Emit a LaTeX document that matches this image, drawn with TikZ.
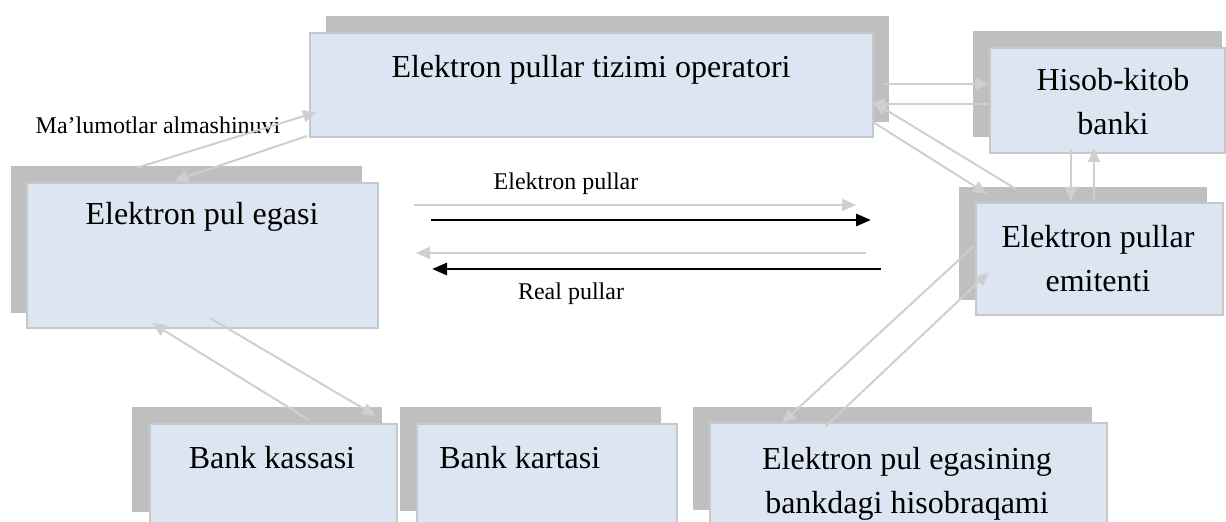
\documentclass[tikz,border=0pt]{standalone}
\usepackage{fontspec}
\setmainfont{Liberation Serif}
\usetikzlibrary{arrows.meta,calc,fit}
\definecolor{boxfill}{HTML}{DCE6F2}
\definecolor{boxline}{HTML}{C8C8C8}
\definecolor{shadowc}{HTML}{BFBFBF}
\definecolor{arrowc}{HTML}{CFCFCF}
\begin{document}
\begin{tikzpicture}[x=0.5pt,y=-0.5pt,
  frontbox/.style={draw=boxline,line width=1pt,fill=boxfill,inner sep=0pt},
  shadowbox/.style={fill=shadowc},
  bigtext/.style={font=\fontsize{16}{22}\selectfont,align=center,inner sep=0pt},
  smalltext/.style={font=\fontsize{12}{14}\selectfont,inner sep=0pt},
  garrow/.style={draw=arrowc,line width=1pt,-{Triangle[length=7pt,width=6pt]}},
  barrow/.style={draw=black,line width=1.4pt,-{Triangle[length=7.5pt,width=6pt]}}]
\useasboundingbox (0,0) rectangle (1226,522);
\clip (0,0) rectangle (1226,522);
% shadows
\fill[shadowbox] (326,16) rectangle (889,122);
\fill[shadowbox] (973,31) rectangle (1222,137);
\fill[shadowbox] (11,166) rectangle (362,313);
\fill[shadowbox] (959,187) rectangle (1207,300);
\fill[shadowbox] (132,407) rectangle (382,512);
\fill[shadowbox] (400,407) rectangle (661,511);
\fill[shadowbox] (693,407) rectangle (1092,510);
% front boxes
\node[frontbox,fit={(310,33)(873,137)}] (op) {};
\node[frontbox,fit={(990,48)(1225,153)}] (hk) {};
\node[frontbox,fit={(27,183)(378,328)}] (eg) {};
\node[frontbox,fit={(976,203)(1223,315)}] (em) {};
\node[frontbox,fit={(150,424)(397,532)}] (kas) {};
\node[frontbox,fit={(417,424)(677,532)}] (kar) {};
\node[frontbox,fit={(710,423)(1107,532)}] (hisr) {};
% texts
\node[bigtext] (opt) at (591,70) {Elektron pullar tizimi operatori};
\node[bigtext] (hkt) at (1113,102) {Hisob-kitob\\banki};
\node[bigtext] (egt) at (202,217) {Elektron pul egasi};
\node[bigtext] (emt) at (1098,259) {Elektron pullar\\emitenti};
\node[bigtext] (kast) at (272,458) {Bank kassasi};
\node[bigtext,anchor=west] (kart) at (439,458) {Bank kartasi};
\node[bigtext] (hisrt) at (907,484) {Elektron pul egasining\\bankdagi hisobraqami};
\node[smalltext] (mal) at (158,125) {Ma’lumotlar almashinuvi};
\node[smalltext] (ep) at (566,184) {Elektron pullar};
\node[smalltext] (rp) at (571,294) {Real pullar};
% connectors
\draw[garrow] ($(eg.north west)+(110,-14)$) -- ($(op.north west)+(8,80)$);
\draw[garrow] ($(op.south west)+(-2,-2)$) -- ($(eg.north west)+(148,-1)$);
\draw[garrow] ($(op.north east)+(9,52)$) -- ($(hk.north west)+(0,37)$);
\draw[garrow] ($(hk.north west)+(0,57)$) -- ($(op.north east)+(-3,72)$);
\draw[garrow] ($(op.north east)+(-1,90)$) -- ($(em.north west)+(12,-8)$);
\draw[garrow] ($(em.north west)+(41,-13)$) -- ($(op.north east)+(-1,70)$);
\draw[garrow] ($(hk.south west)+(82,-5)$) -- ($(em.north west)+(96,-1)$);
\draw[garrow] ($(em.north west)+(119,-3)$) -- ($(hk.south west)+(105,-6)$);
\draw[garrow] ($(eg.north east)+(35,23)$) -- ($(em.north west)+(-119,3)$);
\draw[barrow] ($(eg.north east)+(52,38)$) -- ($(em.north west)+(-104,18)$);
\draw[garrow] ($(em.north west)+(-109,51)$) -- ($(eg.north east)+(37,71)$);
\draw[barrow] ($(em.north west)+(-94,67)$) -- ($(eg.north east)+(53,87)$);
\draw[garrow] ($(kas.north west)+(160,-3)$) -- ($(eg.south west)+(126,-6)$);
\draw[garrow] ($(eg.south west)+(184,-11)$) -- ($(kas.north west)+(227,-7)$);
\draw[garrow] ($(em.north west)+(-1,44)$) -- ($(hisr.north west)+(73,1)$);
\draw[garrow] ($(hisr.north west)+(116,5)$) -- ($(em.north west)+(14,70)$);
\end{tikzpicture}
\end{document}
